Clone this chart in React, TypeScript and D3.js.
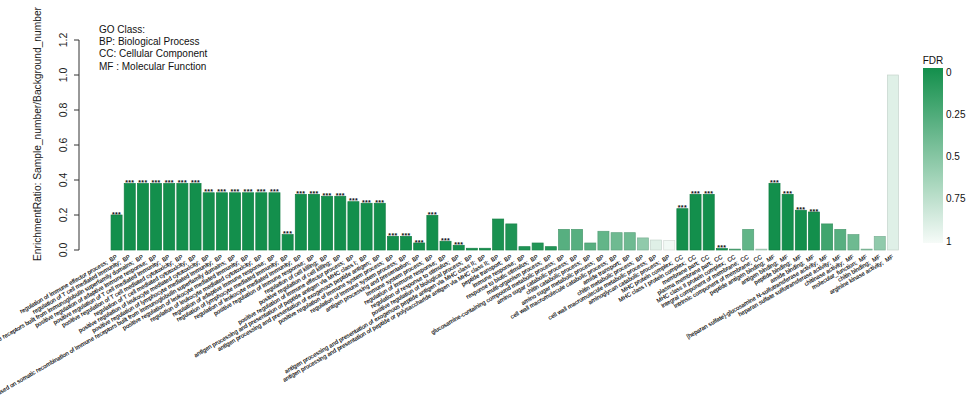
import React from "react";
import * as d3 from "d3";

const terms: string[] = [
  "regulation of immune effector process",
  "regulation of T cell mediated immunity",
  "adaptive immune response based on somatic recombination of immune receptors built from immunoglobulin superfamily domains",
  "positive regulation of adaptive immune response",
  "positive regulation of T cell mediated immunity",
  "positive regulation of T cell mediated cytotoxicity",
  "regulation of T cell mediated cytotoxicity",
  "positive regulation of leukocyte mediated cytotoxicity",
  "positive regulation of lymphocyte mediated immunity",
  "positive regulation of adaptive immune response based on somatic recombination of immune receptors built from immunoglobulin superfamily domains",
  "positive regulation of leukocyte mediated immunity",
  "regulation of leukocyte mediated cytotoxicity",
  "regulation of adaptive immune response",
  "regulation of lymphocyte mediated immunity",
  "regulation of leukocyte mediated immunity",
  "positive regulation of immune response",
  "regulation of cell killing",
  "positive regulation of cell killing",
  "positive regulation of immune effector process",
  "antigen processing and presentation of peptide antigen via MHC class I",
  "antigen processing and presentation of exogenous peptide antigen",
  "positive regulation of immune system process",
  "regulation of immune system process",
  "antigen processing and presentation",
  "immune system process",
  "regulation of immune response",
  "regulation of response to stimulus",
  "positive regulation of biological process",
  "antigen processing and presentation of exogenous peptide antigen via MHC class II",
  "antigen processing and presentation of peptide or polysaccharide antigen via MHC class II",
  "peptide transport",
  "immune response",
  "response to biotic stimulus",
  "multi-organism process",
  "glucosamine-containing compound metabolic process",
  "amino sugar catabolic process",
  "chitin catabolic process",
  "amino sugar metabolic process",
  "cell wall macromolecule catabolic process",
  "amide transport",
  "chitin metabolic process",
  "cell wall macromolecule metabolic process",
  "aminoglycan catabolic process",
  "MHC protein complex",
  "MHC class I protein complex",
  "membrane part",
  "plasma membrane part",
  "MHC class II protein complex",
  "integral component of membrane",
  "intrinsic component of membrane",
  "peptide antigen binding",
  "antigen binding",
  "peptide binding",
  "amide binding",
  "[heparan sulfate]-glucosamine N-sulfotransferase activity",
  "heparan sulfate sulfotransferase activity",
  "chitinase activity",
  "molecular_function",
  "chitin binding",
  "arginine kinase activity",
];

const goClass: string[] = [
  ...Array(43).fill("BP"),
  ...Array(7).fill("CC"),
  ...Array(10).fill("MF"),
];

const ratios: number[] = [
  0.2, 0.38, 0.38, 0.38, 0.38, 0.38, 0.38, 0.327, 0.327, 0.327, 0.327, 0.327, 0.327, 0.088,
  0.318, 0.318, 0.307, 0.307, 0.276, 0.267, 0.267, 0.078, 0.078, 0.04, 0.198, 0.05, 0.027, 0.01, 0.01,
  0.177, 0.149, 0.019, 0.04, 0.019, 0.118, 0.118, 0.04, 0.107, 0.099, 0.099, 0.069, 0.057, 0.055,
  0.236, 0.318, 0.318, 0.008, 0.005, 0.118, 0.005,
  0.381, 0.318, 0.227, 0.217, 0.149, 0.118, 0.088, 0.005, 0.078, 1.0,
];

const fdr: number[] = [
  0, 0, 0, 0, 0, 0, 0, 0, 0, 0, 0, 0, 0, 0,
  0, 0, 0, 0, 0, 0, 0, 0, 0, 0, 0, 0, 0, 0.02, 0.02,
  0.03, 0.05, 0.05, 0.06, 0.06, 0.3, 0.3, 0.3, 0.35, 0.4, 0.4, 0.55, 0.9, 0.98,
  0, 0, 0, 0, 0.25, 0.35, 0.7,
  0, 0, 0, 0, 0.2, 0.3, 0.4, 0.5, 0.55, 0.9,
];

const stars: boolean[] = ratios.map(
  (_, i) => i <= 26 || (i >= 43 && i <= 46) || (i >= 50 && i <= 53)
);

const yTicks: number[] = [0, 0.2, 0.4, 0.6, 0.8, 1.0, 1.2];
const fdrTicks: number[] = [0, 0.25, 0.5, 0.75, 1];
const legendLines: string[] = [
  "GO Class:",
  "BP: Biological Process",
  "CC: Cellular Component",
  "MF : Molecular Function",
];

const W = 970;
const H = 397;
const FONT = "Liberation Sans, Arial, Helvetica, sans-serif";

export default function App() {
  const x = d3
    .scaleBand<number>()
    .domain(ratios.map((_, i) => i))
    .range([110, 899.5])
    .paddingInner(0.16)
    .paddingOuter(0.08);
  const y = d3.scaleLinear().domain([0, 1.2]).range([250, 40]);
  const color = d3
    .scaleLinear<string>()
    .domain([0, 1])
    .range(["#138f4c", "#f6fbf8"])
    .interpolate(d3.interpolateRgb);
  const legendY = d3.scaleLinear().domain([0, 1]).range([72, 241]);
  const axisX = 79;

  return (
    <svg
      width={W}
      height={H}
      style={{ position: "absolute", left: 0, top: 0, display: "block", background: "#fff" }}
      fontFamily={FONT}
    >
      <defs>
        <linearGradient id="fdrGrad" x1="0" y1="0" x2="0" y2="1">
          {d3.range(0, 1.0001, 0.1).map((t) => (
            <stop key={t} offset={t} stopColor={color(t)} />
          ))}
        </linearGradient>
      </defs>

      {/* y axis */}
      <line x1={axisX} x2={axisX} y1={y(0)} y2={y(1.2)} stroke="#333" strokeWidth={1} />
      {yTicks.map((t) => (
        <g key={t}>
          <line x1={axisX - 5} x2={axisX} y1={y(t)} y2={y(t)} stroke="#333" strokeWidth={1} />
          <text
            transform={`translate(${axisX - 12},${y(t)}) rotate(-90)`}
            textAnchor="middle"
            fontSize={10.5}
            fill="#222"
          >
            {t.toFixed(1)}
          </text>
        </g>
      ))}
      <text
        transform={`translate(41,134) rotate(-90)`}
        textAnchor="middle"
        fontSize={10.5}
        fill="#222"
        textLength={254}
        lengthAdjust="spacingAndGlyphs"
      >
        EnrichmentRatio: Sample_number/Background_number
      </text>

      {/* legend text */}
      {legendLines.map((s, i) => (
        <text key={s} x={99} y={32.8 + i * 12.3} fontSize={10} fill="#111">
          {s}
        </text>
      ))}

      {/* bars */}
      {ratios.map((v, i) => {
        const bx = x(i)!;
        const bw = x.bandwidth();
        const fill = color(fdr[i]);
        const stroke = d3.color(fill)!.darker(0.35).formatHex();
        return (
          <g key={i}>
            <rect
              x={bx}
              y={y(v)}
              width={bw}
              height={y(0) - y(v)}
              fill={fill}
              stroke={stroke}
              strokeWidth={0.7}
            />
            {stars[i] && (
              <text
                x={bx + bw / 2}
                y={y(v) + 1.5}
                textAnchor="middle"
                fontSize={7}
                fontWeight="bold"
                fill="#111"
                letterSpacing={0.3}
              >
                ***
              </text>
            )}
            <text
              transform={`translate(${bx + bw / 2 + 1},${258}) rotate(-30)`}
              textAnchor="end"
              fontSize={5.9}
              fill="#000"
              stroke="#000"
              strokeWidth={0.12}
              style={{ whiteSpace: "pre" }}
            >
              {`${terms[i]};  ${goClass[i]}`}
            </text>
          </g>
        );
      })}

      {/* FDR legend */}
      <text x={933} y={63.5} textAnchor="middle" fontSize={10} fill="#111">
        FDR
      </text>
      <rect x={923} y={68} width={20} height={175} fill="url(#fdrGrad)" />
      {fdrTicks.map((t) => (
        <text key={t} x={946} y={legendY(t) + 3.5} fontSize={10} fill="#111">
          {String(t)}
        </text>
      ))}
    </svg>
  );
}
